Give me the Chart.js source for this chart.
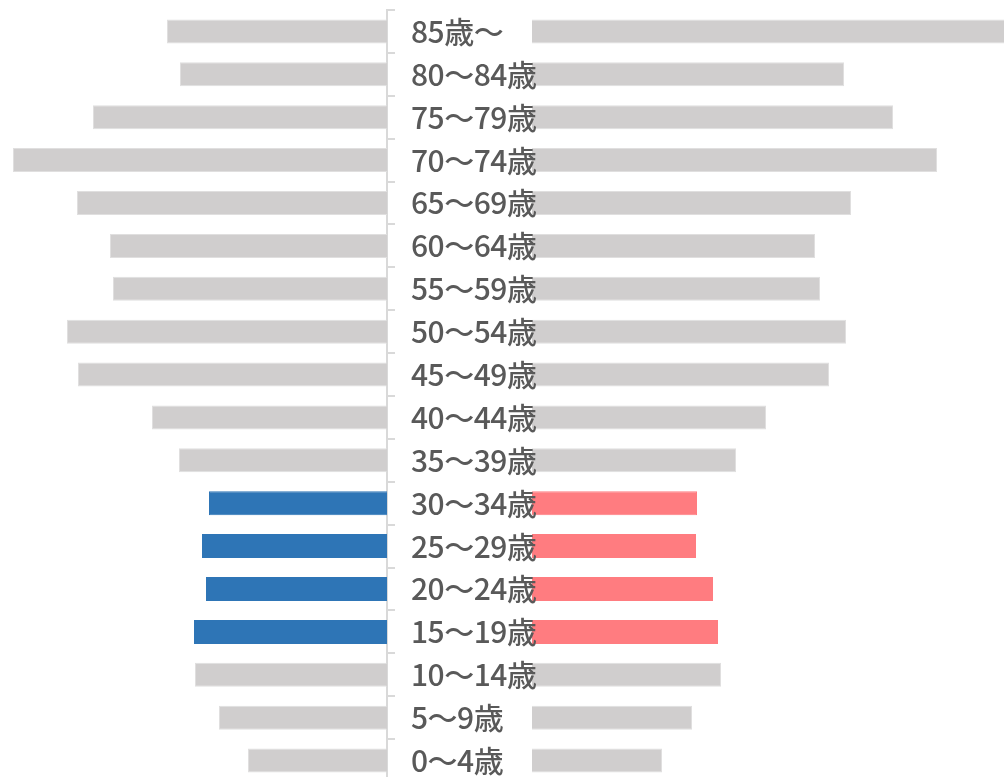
<!DOCTYPE html>
<html>
<head>
<meta charset="utf-8">
<script src="https://cdn.jsdelivr.net/npm/chart.js@4"></script>
<style>
  html, body { margin: 0; padding: 0; background: #fff; overflow: hidden; }
  #wrap { position: relative; width: 1004px; height: 777px; overflow: hidden; }
  #maleChart { position: absolute; left: 0; top: 0; }
  #femaleChart { position: absolute; left: 395px; top: 0; }
</style>
</head>
<body>
<div id="wrap">
  <canvas id="maleChart" width="395" height="782"></canvas>
  <canvas id="femaleChart" width="609" height="782"></canvas>
</div>
<script>
// Age groups, top to bottom
const ageLabels = ['85歳～', '80～84歳', '75～79歳', '70～74歳', '65～69歳', '60～64歳',
    '55～59歳', '50～54歳', '45～49歳', '40～44歳', '35～39歳', '30～34歳',
    '25～29歳', '20～24歳', '15～19歳', '10～14歳', '5～9歳', '0～4歳'];

// Population (estimated from the bars)
const maleValues = [1100, 1035, 1470, 1870, 1550, 1385, 1370, 1600, 1545, 1175, 1040, 890, 925, 905, 965, 960, 840, 695];
const femaleValues = [2400, 1560, 1805, 2025, 1595, 1415, 1440, 1570, 1485, 1170, 1020, 825, 820, 905, 930, 945, 800, 650];

// Highlighted age groups
const highlighted = ['30～34歳', '25～29歳', '20～24歳', '15～19歳'];

const GREY = '#d0cece';
const GREY_EDGE = '#e0dfdf';

// Same px per person on both sides
const maleMax = 1935;
const femaleMax = 2360;

function colorsFor(color) {
    return ageLabels.map(l => highlighted.includes(l) ? color : GREY);
}
function edgesFor(color) {
    return ageLabels.map(l => highlighted.includes(l) ? color : GREY_EDGE);
}

// Draws the age labels in the middle, on top of the bars
const ageLabelPlugin = {
    id: 'ageLabels',
    afterDatasetsDraw(chart) {
        const ctx = chart.ctx;
        const yScale = chart.scales.y;
        ctx.save();
        ctx.font = '500 30px "Noto Sans CJK JP", "Noto Sans", sans-serif';
        ctx.fillStyle = '#595959';
        ctx.textBaseline = 'middle';
        ctx.textAlign = 'left';
        if ('letterSpacing' in ctx) ctx.letterSpacing = '-0.5px';
        ageLabels.forEach((label, i) => {
            ctx.fillText(label, 16, yScale.getPixelForValue(i));
        });
        ctx.restore();
    }
};

function populateMaleChart() {
    new Chart(document.getElementById('maleChart'), {
        type: 'bar',
        data: {
            labels: ageLabels,
            datasets: [{
                data: maleValues,
                backgroundColor: colorsFor('#2e75b6'),
                borderColor: edgesFor('#2e75b6'),
                borderWidth: 1,
                categoryPercentage: 1,
                barPercentage: 0.56
            }]
        },
        options: {
            indexAxis: 'y',
            responsive: false,
            animation: false,
            layout: { padding: { top: 10 } },
            plugins: { legend: { display: false }, tooltip: { enabled: false } },
            scales: {
                x: { display: false, reverse: true, min: 0, max: maleMax },
                y: {
                    position: 'right',
                    border: { color: '#d9d9d9', width: 2 },
                    grid: { drawOnChartArea: false, tickLength: 8, color: '#d9d9d9', lineWidth: 2 },
                    ticks: { display: false }
                }
            }
        }
    });
}

function populateFemaleChart() {
    new Chart(document.getElementById('femaleChart'), {
        type: 'bar',
        data: {
            labels: ageLabels,
            datasets: [{
                data: femaleValues,
                backgroundColor: colorsFor('#ff7c80'),
                borderColor: edgesFor('#ff7c80'),
                borderWidth: 1,
                categoryPercentage: 1,
                barPercentage: 0.56
            }]
        },
        options: {
            indexAxis: 'y',
            responsive: false,
            animation: false,
            layout: { padding: { top: 10, left: 137 } },
            plugins: { legend: { display: false }, tooltip: { enabled: false } },
            scales: {
                x: { display: false, min: 0, max: femaleMax },
                y: { display: false }
            }
        },
        plugins: [ageLabelPlugin]
    });
}

document.addEventListener('DOMContentLoaded', () => {
    populateMaleChart();
    populateFemaleChart();
});
</script>
</body>
</html>
